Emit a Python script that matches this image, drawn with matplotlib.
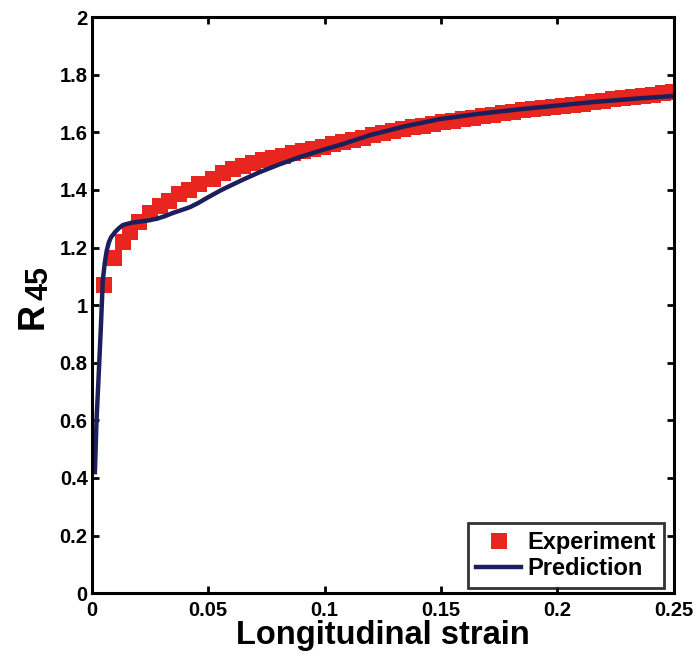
import matplotlib
matplotlib.use("Agg")
import matplotlib.pyplot as plt

plt.rcParams['font.family'] = ['Liberation Sans', 'DejaVu Sans']
plt.rcParams['font.weight'] = 'bold'

# Measured R45 (Lankford coefficient at 45 deg) vs longitudinal strain
exp_strain = [0.0050, 0.0094, 0.0133, 0.0165, 0.0202, 0.0249, 0.0292, 0.0331,
              0.0374, 0.0417, 0.0460, 0.0520, 0.0563, 0.0606, 0.0649, 0.0692,
              0.0735, 0.0778, 0.0821, 0.0864, 0.0907, 0.0950, 0.0993, 0.1036,
              0.1079, 0.1122, 0.1165, 0.1208, 0.1251, 0.1294, 0.1337, 0.1380,
              0.1423, 0.1466, 0.1509, 0.1552, 0.1595, 0.1638, 0.1681, 0.1724,
              0.1767, 0.1810, 0.1853, 0.1896, 0.1939, 0.1982, 0.2025, 0.2068,
              0.2111, 0.2154, 0.2197, 0.2240, 0.2283, 0.2326, 0.2369, 0.2412,
              0.2455, 0.2498]
exp_r45 = [1.070, 1.165, 1.220, 1.255, 1.290, 1.320, 1.345, 1.360,
           1.385, 1.400, 1.420, 1.438, 1.460, 1.474, 1.484, 1.494,
           1.503, 1.511, 1.519, 1.527, 1.535, 1.542, 1.550, 1.558,
           1.566, 1.574, 1.582, 1.590, 1.597, 1.604, 1.611, 1.617,
           1.623, 1.629, 1.635, 1.641, 1.646, 1.651, 1.656, 1.661,
           1.666, 1.671, 1.676, 1.680, 1.684, 1.688, 1.692, 1.696,
           1.700, 1.705, 1.709, 1.714, 1.718, 1.723, 1.727, 1.731,
           1.735, 1.739]

# Model prediction
pred_strain = [0.0013, 0.0020, 0.0030, 0.0039, 0.0047, 0.0056, 0.0064, 0.0073,
               0.0082, 0.0099, 0.0116, 0.0133, 0.0170, 0.0206, 0.0243, 0.0279,
               0.0314, 0.0348, 0.0385, 0.0421, 0.0458, 0.0494, 0.0550, 0.0580,
               0.0650, 0.0722, 0.0810, 0.0893, 0.0980, 0.1065, 0.1194, 0.1340,
               0.1495, 0.1660, 0.1838, 0.2000, 0.2152, 0.2320, 0.2496]
pred_r45 = [0.420, 0.600, 0.770, 0.930, 1.087, 1.150, 1.190, 1.218,
            1.235, 1.253, 1.267, 1.278, 1.286, 1.290, 1.294, 1.300,
            1.309, 1.320, 1.330, 1.340, 1.355, 1.372, 1.397, 1.409,
            1.436, 1.462, 1.490, 1.514, 1.536, 1.556, 1.590, 1.620,
            1.646, 1.664, 1.680, 1.693, 1.705, 1.716, 1.726]

x_ticks = [0, 0.05, 0.1, 0.15, 0.2, 0.25]
x_tick_labels = ['0', '0.05', '0.1', '0.15', '0.2', '0.25']
y_ticks = [0, 0.2, 0.4, 0.6, 0.8, 1, 1.2, 1.4, 1.6, 1.8, 2]
y_tick_labels = ['0', '0.2', '0.4', '0.6', '0.8', '1', '1.2', '1.4', '1.6', '1.8', '2']

fig = plt.figure(figsize=(6.96, 6.59), dpi=100)
ax = fig.add_axes([0.132, 0.100, 0.836, 0.874])

ax.plot(exp_strain, exp_r45, linestyle='none', marker='s', markersize=11,
        color='#e8261f', markeredgewidth=0, label='Experiment')
ax.plot(pred_strain, pred_r45, color='#1c1f5c', linewidth=3.2,
        label='Prediction')

ax.set_xlim(0, 0.25)
ax.set_ylim(0, 2)
ax.set_xticks(x_ticks)
ax.set_xticklabels(x_tick_labels)
ax.set_yticks(y_ticks)
ax.set_yticklabels(y_tick_labels)

ax.tick_params(direction='in', length=5, width=2, labelsize=14.5,
               top=True, right=True)
ax.tick_params(axis='y', pad=3)
ax.tick_params(axis='x', pad=6)
for s in ax.spines.values():
    s.set_linewidth(2.2)

ax.set_xlabel('Longitudinal strain', fontsize=23.5, fontweight='bold', labelpad=0)

# y-axis label: R with a large subscript 45
fig.text(33 / 696, 1 - 316 / 659, 'R', rotation=90, fontsize=26,
         fontweight='bold', ha='center', va='center')
fig.text(40 / 696, 1 - 283 / 659, '45', rotation=90, fontsize=22,
         fontweight='bold', ha='center', va='center')

leg = ax.legend(loc='lower right', bbox_to_anchor=(0.983, 0.008), fontsize=17,
                frameon=True, fancybox=False, borderpad=0.35,
                handlelength=1.9, handletextpad=0.25, labelspacing=0.12,
                borderaxespad=0.0)
leg.get_frame().set_edgecolor('black')
leg.get_frame().set_linewidth(2)
for t in leg.get_texts():
    t.set_fontweight('bold')

fig.savefig('out.png', dpi=100)
